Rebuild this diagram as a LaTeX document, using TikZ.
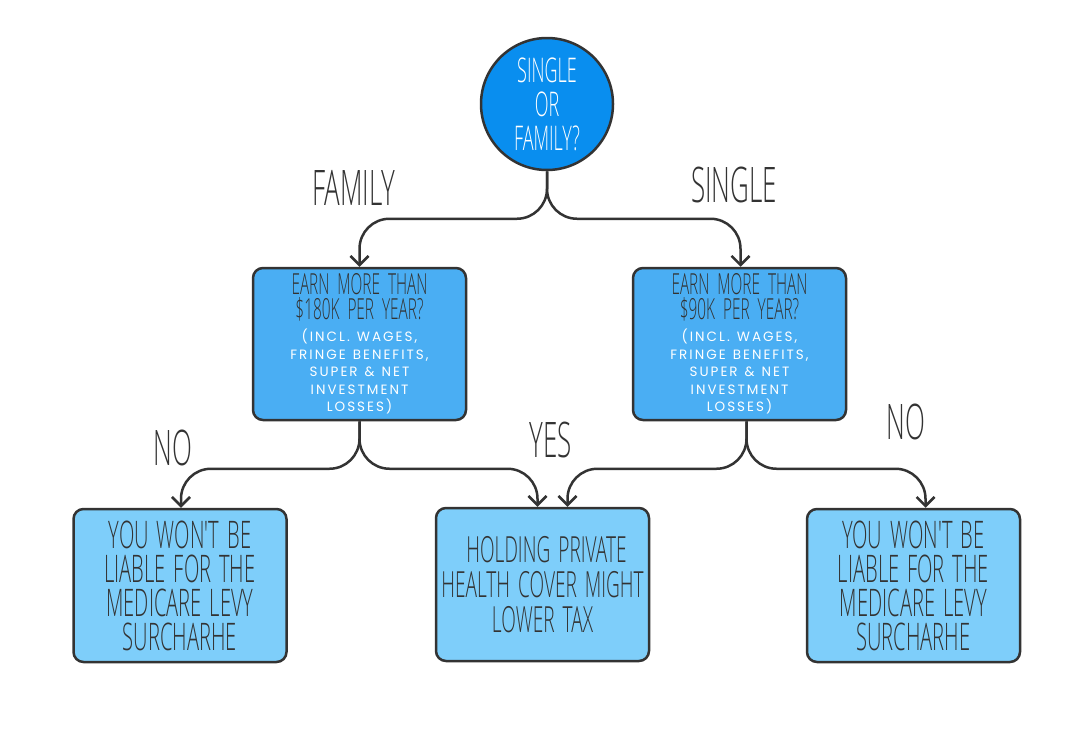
\documentclass[tikz,border=0pt]{standalone}
\usepackage{fontspec}
\usetikzlibrary{arrows.meta}
\IfFontExistsTF{Open Sans Light}
  {\newfontfamily\hand[FakeStretch=0.53]{Open Sans Light}}
  {\newfontfamily\hand[FakeStretch=0.53]{Open Sans}}
\newfontfamily\pop[LetterSpace=15]{Poppins}
\definecolor{ink}{HTML}{333333}
\definecolor{cblue}{HTML}{098EEF}
\definecolor{mblue}{HTML}{4AAEF3}
\definecolor{lblue}{HTML}{7ECEFA}
\newcommand{\hsz}[3]{\hand\fontsize{#1}{#2}\selectfont\spaceskip=#3pt\relax\xspaceskip=#3pt\relax}
\tikzset{
  conn/.style={draw=ink, line width=2.5pt, rounded corners=30pt,
    -{Straight Barb[length=9pt,width=18pt,line width=2.5pt]}},
  qbox/.style={draw=ink, line width=2.5pt, fill=mblue, rounded corners=10pt,
    minimum width=213pt, minimum height=152pt, text width=205pt, align=center,
    inner sep=0pt, text=ink},
  abox/.style={draw=ink, line width=2.5pt, fill=lblue, rounded corners=10pt,
    minimum width=213pt, minimum height=153pt, text width=205pt, align=center,
    inner sep=0pt, text=ink},
  lab/.style={text=ink, font=\hsz{49}{49}{12}, inner sep=0pt}
}
\newcommand{\qtxt}{\hsz{29}{24.5}{8}}
\newcommand{\stxt}{\pop\fontsize{13.5}{17.5}\selectfont\spaceskip=7pt\relax\xspaceskip=7pt\relax\color{white}}
\newcommand{\atxt}{\hsz{38}{34}{8}}
\begin{document}
\begin{tikzpicture}[x=1pt,y=-1pt]
\useasboundingbox (0,0) rectangle (1092,750);
\fill[white] (0,0) rectangle (1092,750);

\node[circle, draw=ink, line width=2.5pt, fill=cblue, minimum size=132pt,
  inner sep=0pt, align=center, text=white,
  font=\hsz{34}{34}{9}] (c) at (547,104) {SINGLE\\OR\\FAMILY?};

\node[qbox] (f) at (359.5,344) {{\qtxt EARN MORE THAN\\ \$180K PER YEAR?\par}\vspace{5pt}
  {\stxt (INCL. WAGES,\\ FRINGE BENEFITS,\\ SUPER \& NET\\ INVESTMENT\\ LOSSES)\par}};
\node[qbox] (s) at (739.5,344) {{\qtxt EARN MORE THAN\\ \$90K PER YEAR?\par}\vspace{5pt}
  {\stxt (INCL. WAGES,\\ FRINGE BENEFITS,\\ SUPER \& NET\\ INVESTMENT\\ LOSSES)\par}};

\node[abox] (n1) at (180,585.5) {\atxt YOU WON'T BE\\ LIABLE FOR THE\\ MEDICARE LEVY\\ SURCHARHE\par};
\node[abox] (y) at (542.5,584.5) {\hsz{36}{35}{8} HOLDING PRIVATE\\ HEALTH COVER MIGHT\\ LOWER TAX\par};
\node[abox] (n2) at (913.5,585.5) {\atxt YOU WON'T BE\\ LIABLE FOR THE\\ MEDICARE LEVY\\ SURCHARHE\par};

\node[lab] (lf) at (354,188) {FAMILY};
\node[lab] (ls) at (734,185) {SINGLE};
\node[lab] (ln1) at (173,448) {NO};
\node[lab] (ly) at (551,440) {YES};
\node[lab] (ln2) at (906,422) {NO};

\draw[conn] (c.south) |- ([yshift=48pt]f.north) -- (f.north);
\draw[conn] (c.south) |- ([xshift=1pt,yshift=48pt]s.north) -- ([xshift=1pt]s.north);
\draw[conn] (f.south) |- ([xshift=1pt,yshift=39pt]n1.north) -- ([xshift=1pt]n1.north);
\draw[conn] (f.south) |- ([xshift=-5pt,yshift=38pt]y.north) -- ([xshift=-5pt]y.north);
\draw[conn] ([xshift=7pt]s.south) |- ([xshift=25pt,yshift=38pt]y.north) -- ([xshift=25pt]y.north);
\draw[conn] ([xshift=7pt]s.south) |- ([xshift=12pt,yshift=39pt]n2.north) -- ([xshift=12pt]n2.north);
\end{tikzpicture}
\end{document}
